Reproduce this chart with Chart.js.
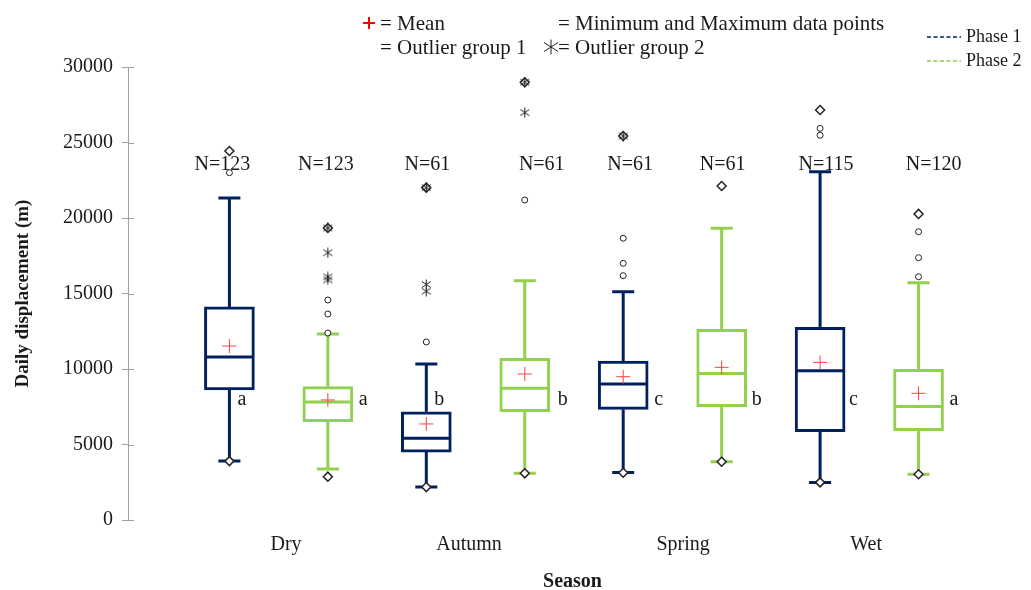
<!DOCTYPE html>
<html>
<head>
<meta charset="utf-8">
<script src="https://cdn.jsdelivr.net/npm/chart.js@4.4.0/dist/chart.umd.min.js"></script>
<style>
  html, body { margin: 0; padding: 0; background: #fff; }
  #wrap { width: 1031px; height: 590px; }
</style>
</head>
<body>
<div id="wrap"><canvas id="myChart"></canvas></div>
<script>
const seasons = ["Dry", "Autumn", "Spring", "Wet"];
const seasonTickPos = [1.575, 3.434, 5.608, 7.468];
const phases = ["Phase 1", "Phase 2"];

// one entry per box: Dry P1, Dry P2, Autumn P1, Autumn P2, Spring P1, Spring P2, Wet P1, Wet P2
const boxPos = [1, 2, 3, 4, 5, 6, 7, 8];
const whiskLow = [3910, 3380, 2180, 3090, 3140, 3860, 2490, 3030];
const q1 = [8610, 6510, 4500, 7170, 7330, 7510, 5850, 5910];
const median = [10800, 7810, 5410, 8720, 9010, 9710, 9890, 7510];
const q3 = [14110, 8830, 7170, 10710, 10530, 12630, 12760, 9980];
const whiskHigh = [21330, 12320, 10330, 15850, 15120, 19320, 23070, 15720];
const means = [11520, 7950, 6360, 9670, 9490, 10110, 10440, 8390];
const minPts = [3900, 2870, 2180, 3090, 3130, 3860, 2490, 3030];
const maxPts = [24440, 19340, 22010, 28990, 25430, 22120, 27150, 20270];
const outliers1 = [[23000], [14570, 13640, 12380], [11790], [21190], [18660, 17000, 16180], [], [25940, 25480], [19090, 17370, 16110]];
const outliers2 = [[], [19340, 17700, 16100, 15900], [22010, 15600, 15150], [28990, 26980], [25430], [], [], []];
const nCounts = [123, 123, 61, 61, 61, 61, 115, 120];
const groupLetters = ["a", "a", "b", "b", "c", "b", "c", "a"];

const navy = "#002060";
const green = "#92d050";
const serif = '"Liberation Serif", "Times New Roman", serif';

Chart.defaults.font.family = serif;
Chart.defaults.color = "#1a1a1a";

// asterisk used for outlier group 2
function makeStar(size) {
  const c = document.createElement("canvas");
  c.width = size; c.height = size;
  const g = c.getContext("2d");
  const m = size / 2;
  g.strokeStyle = "#222";
  g.lineWidth = 1;
  g.beginPath();
  g.moveTo(m, 0.5); g.lineTo(m, size - 0.5);
  g.moveTo(1, size * 0.22); g.lineTo(size - 1, size * 0.78);
  g.moveTo(1, size * 0.78); g.lineTo(size - 1, size * 0.22);
  g.stroke();
  return c;
}
const starImg = makeStar(11);
const starBig = makeStar(16);

const boxData = (ph) => boxPos
  .map((p, i) => ({ x: p, y: [q1[i], q3[i]], ph: i % 2 }))
  .filter(d => d.ph === ph)
  .map(d => ({ x: d.x, y: d.y }));

const pts = (vals) => vals.map((v, i) => ({ x: boxPos[i], y: v }));
const flatPts = (groups) => groups.flatMap((g, i) => g.map(v => ({ x: boxPos[i], y: v })));

const boxExtras = {
  id: "boxExtras",
  afterDatasetDraw(chart, args, opts) {
    const ds = chart.data.datasets[args.index];
    const ph = phases.indexOf(ds.label);
    if (ph < 0) return;
    const { ctx } = chart;
    const x = chart.scales.x, y = chart.scales.y;
    ctx.save();
    ctx.strokeStyle = ds.borderColor;
    ctx.lineWidth = 3;
    boxPos.forEach((p, i) => {
      if (i % 2 !== ph) return;
      const cx = x.getPixelForValue(p);
      const cap = opts.capWidth / 2, half = opts.boxWidth / 2 - 1.5;
      const yHi = y.getPixelForValue(whiskHigh[i]), yLo = y.getPixelForValue(whiskLow[i]);
      const ym = y.getPixelForValue(median[i]);
      ctx.beginPath();
      ctx.moveTo(cx, y.getPixelForValue(q3[i])); ctx.lineTo(cx, yHi);
      ctx.moveTo(cx, y.getPixelForValue(q1[i])); ctx.lineTo(cx, yLo);
      ctx.moveTo(cx - cap, yHi); ctx.lineTo(cx + cap, yHi);
      ctx.moveTo(cx - cap, yLo); ctx.lineTo(cx + cap, yLo);
      ctx.moveTo(cx - half, ym); ctx.lineTo(cx + half, ym);
      ctx.stroke();
    });
    ctx.restore();
  },
  afterDraw(chart, args, opts) {
    const { ctx, chartArea } = chart;
    const x = chart.scales.x, y = chart.scales.y;
    ctx.save();
    // inner half of the y ticks
    ctx.strokeStyle = "#a0a0a0";
    ctx.lineWidth = 1;
    y.ticks.forEach(t => {
      const py = Math.round(y.getPixelForValue(t.value)) + 0.5;
      ctx.beginPath();
      ctx.moveTo(chartArea.left, py); ctx.lineTo(chartArea.left + 6, py);
      ctx.stroke();
    });

    ctx.font = "20px " + serif;
    ctx.fillStyle = "#1a1a1a";
    ctx.textBaseline = "middle";
    ctx.textAlign = "center";
    const nY = y.getPixelForValue(opts.nLabelValue);
    const lY = y.getPixelForValue(opts.letterValue);
    boxPos.forEach((p, i) => {
      const cx = x.getPixelForValue(p);
      ctx.fillText("N=" + nCounts[i], cx + opts.nDx[i], nY);
      ctx.textAlign = "left";
      ctx.fillText(groupLetters[i], cx + opts.letterDx[i], lY);
      ctx.textAlign = "center";
    });

    // top legend
    ctx.font = "21px " + serif;
    ctx.textAlign = "left";
    ctx.strokeStyle = "#ff0000";
    ctx.lineWidth = 2;
    ctx.beginPath();
    ctx.moveTo(363, 23); ctx.lineTo(375, 23);
    ctx.moveTo(369, 17); ctx.lineTo(369, 29);
    ctx.stroke();
    ctx.fillText("= Mean", 380, 24);
    ctx.fillText("= Minimum and Maximum data points", 558, 24);
    ctx.fillText("= Outlier group 1", 380, 48);
    ctx.drawImage(starBig, 543, 39);
    ctx.fillText("= Outlier group 2", 558, 48);

    // phase legend
    ctx.font = "18px " + serif;
    ctx.lineWidth = 1.5;
    ctx.setLineDash([4, 2.5]);
    [[navy, 37], [green, 61]].forEach(([col, py], k) => {
      ctx.strokeStyle = col;
      ctx.beginPath();
      ctx.moveTo(927, py); ctx.lineTo(961, py);
      ctx.stroke();
      ctx.fillText(phases[k], 966, py);
    });
    ctx.restore();
  }
};

const data = {
  datasets: [
    {
      type: "scatter", label: "Mean", data: pts(means),
      pointStyle: "cross", radius: 7, borderColor: "#ff4040", borderWidth: 1, order: 0
    },
    {
      type: "scatter", label: "Outlier group 2", data: flatPts(outliers2),
      pointStyle: starImg, order: 1
    },
    {
      type: "scatter", label: "Min and Max",
      data: pts(minPts).concat(pts(maxPts)),
      pointStyle: "rectRot", radius: 4.5, backgroundColor: "#fff", borderColor: "#222", borderWidth: 1.5, order: 2
    },
    {
      type: "scatter", label: "Outlier group 1", data: flatPts(outliers1),
      pointStyle: "circle", radius: 3, backgroundColor: "#fff", borderColor: "#222", borderWidth: 1, order: 2
    },
    {
      type: "bar", label: phases[0], data: boxData(0),
      backgroundColor: "#fff", borderColor: navy, borderWidth: 3, borderSkipped: false,
      barThickness: 50, grouped: false, order: 3
    },
    {
      type: "bar", label: phases[1], data: boxData(1),
      backgroundColor: "#fff", borderColor: green, borderWidth: 3, borderSkipped: false,
      barThickness: 50, grouped: false, order: 3
    }
  ]
};

const config = {
  type: "bar",
  data: data,
  plugins: [boxExtras],
  options: {
    responsive: true,
    maintainAspectRatio: false,
    animation: false,
    layout: { padding: { top: 67, right: 14, left: 0, bottom: 0 } },
    plugins: {
      legend: { display: false },
      tooltip: { enabled: false },
      boxExtras: {
        boxWidth: 50,
        capWidth: 22,
        nLabelValue: 23500,
        letterValue: 7950,
        nDx: [-7, -2, 1, 17, 7, 1, 6, 15],
        letterDx: [8, 31, 8, 33, 31, 30, 29, 31]
      }
    },
    scales: {
      x: {
        type: "linear",
        offset: false,
        min: -0.03,
        max: 9,
        grid: { display: false, offset: false },
        border: { display: false },
        afterBuildTicks: (axis) => { axis.ticks = seasonTickPos.map(v => ({ value: v })); },
        afterFit: (s) => { s.height = 70; },
        ticks: {
          autoSkip: false,
          maxRotation: 0,
          padding: 5,
          font: { size: 20 },
          callback: (v, i) => seasons[i]
        },
        title: {
          display: true,
          text: "Season",
          font: { size: 20, weight: "bold" },
          padding: { top: 0, bottom: -4 }
        }
      },
      y: {
        min: 0,
        max: 30000,
        afterFit: (s) => { s.width = 128; },
        grid: { drawOnChartArea: false, tickLength: 6, color: "#a0a0a0" },
        border: { color: "#a0a0a0" },
        ticks: { stepSize: 5000, padding: 9, font: { size: 20 }, callback: (v) => String(v) },
        title: {
          display: true,
          text: "Daily displacement (m)",
          font: { size: 19, weight: "bold" },
          padding: { top: 12, bottom: 0 }
        }
      }
    }
  }
};

const myChart = new Chart(document.getElementById("myChart"), config);
</script>
</body>
</html>
